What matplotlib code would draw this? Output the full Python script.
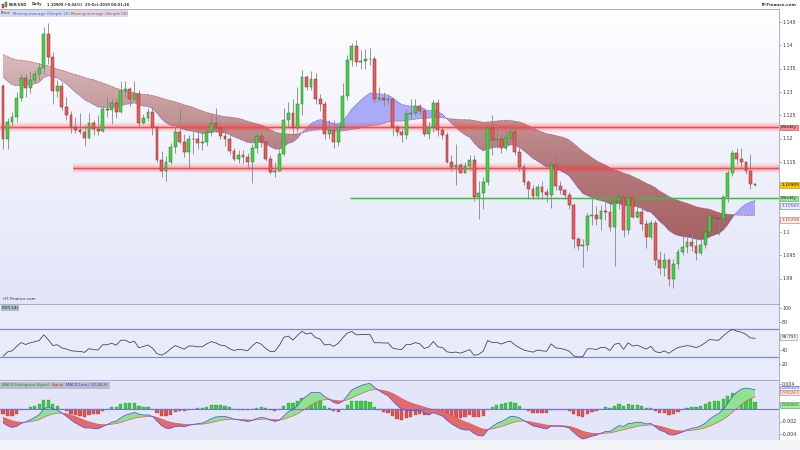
import numpy as np
import pandas as pd
import matplotlib
matplotlib.use('Agg')
import matplotlib.pyplot as plt
from matplotlib.path import Path
from matplotlib.patches import Rectangle
from matplotlib.colors import LinearSegmentedColormap

# ---- data: EUR/USD daily, 07-Mar-2019 .. 25-Oct-2019 ----
# closes before the visible window, only used to warm up the indicators
warmup_close = [
    1.1352, 1.1343, 1.1343, 1.1375, 1.1405, 1.1355, 1.1318, 1.1370, 1.1366, 1.1307,
    1.1347, 1.1359, 1.1381, 1.1449, 1.1372, 1.1400, 1.1353, 1.1431, 1.1441, 1.1466,
    1.1346, 1.1391, 1.1395, 1.1474, 1.1442, 1.1545, 1.1500, 1.1468, 1.1472, 1.1413,
    1.1394, 1.1389, 1.1365, 1.1362, 1.1362, 1.1385, 1.1306, 1.1406, 1.1427, 1.1433,
    1.1478, 1.1445, 1.1455, 1.1434, 1.1406, 1.1375, 1.1342, 1.1326, 1.1275, 1.1327,
    1.1263, 1.1295, 1.1296, 1.1311, 1.1342, 1.1341, 1.1336, 1.1328, 1.1359, 1.1392,
    1.1370, 1.1372, 1.1365, 1.1339, 1.1307, 1.1306,
]
first_open = 1.1312

close = [
    # Mar
    1.1200, 1.1236, 1.1247, 1.1288, 1.1330, 1.1308, 1.1326, 1.1338, 1.1352, 1.1425,
    1.1375, 1.1303, 1.1312, 1.1268, 1.1250, 1.1226, 1.1218,
    # Apr
    1.1215, 1.1202, 1.1234, 1.1220, 1.1217, 1.1263, 1.1262, 1.1276, 1.1258, 1.1303,
    1.1306, 1.1284, 1.1296, 1.1234, 1.1245, 1.1258, 1.1225, 1.1155, 1.1131, 1.1150,
    1.1183, 1.1214,
    # May
    1.1193, 1.1171, 1.1200, 1.1199, 1.1191, 1.1192, 1.1215, 1.1234, 1.1223, 1.1205,
    1.1200, 1.1174, 1.1157, 1.1164, 1.1160, 1.1151, 1.1180, 1.1205, 1.1192, 1.1157,
    1.1129, 1.1130, 1.1168,
    # Jun
    1.1240, 1.1254, 1.1222, 1.1275, 1.1333, 1.1311, 1.1327, 1.1286, 1.1274, 1.1209,
    1.1219, 1.1193, 1.1225, 1.1292, 1.1368, 1.1398, 1.1364, 1.1367, 1.1371, 1.1370,
    # Jul
    1.1285, 1.1287, 1.1283, 1.1284, 1.1226, 1.1214, 1.1207, 1.1252, 1.1254, 1.1271,
    1.1260, 1.1211, 1.1225, 1.1277, 1.1218, 1.1208, 1.1150, 1.1139, 1.1143, 1.1127,
    1.1141, 1.1155, 1.1076,
    # Aug
    1.1083, 1.1108, 1.1222, 1.1198, 1.1199, 1.1181, 1.1201, 1.1214, 1.1172, 1.1139,
    1.1107, 1.1092, 1.1078, 1.1096, 1.1085, 1.1080, 1.1143, 1.1099, 1.1090, 1.1079,
    1.1058, 1.0986,
    # Sep
    1.0969, 1.0972, 1.1035, 1.1036, 1.1027, 1.1045, 1.1042, 1.1011, 1.1064, 1.1074,
    1.1004, 1.1073, 1.1033, 1.1043, 1.1017, 1.0990, 1.1020, 1.0940, 1.0922, 1.0940,
    1.0899,
    # Oct
    1.0931, 1.0958, 1.0968, 1.0978, 1.0971, 1.0955, 1.0972, 1.1000, 1.1034, 1.1030,
    1.1028, 1.1075, 1.1126, 1.1170, 1.1156, 1.1149, 1.1131, 1.1103, 1.1100,
]

high = [
    1.1318, 1.1245, 1.1257, 1.1300, 1.1339, 1.1338, 1.1346, 1.1348, 1.1362, 1.1440,
    1.1448, 1.1385, 1.1326, 1.1322, 1.1290, 1.1260, 1.1246,
    1.1255, 1.1230, 1.1255, 1.1240, 1.1250, 1.1270, 1.1289, 1.1288, 1.1288, 1.1324,
    1.1323, 1.1310, 1.1323, 1.1304, 1.1252, 1.1266, 1.1268, 1.1228, 1.1173, 1.1162,
    1.1190, 1.1224,
    1.1265, 1.1210, 1.1208, 1.1215, 1.1230, 1.1215, 1.1228, 1.1250, 1.1265, 1.1238,
    1.1222, 1.1208, 1.1180, 1.1176, 1.1175, 1.1170, 1.1188, 1.1215, 1.1215, 1.1195,
    1.1165, 1.1150, 1.1175,
    1.1265, 1.1278, 1.1285, 1.1310, 1.1348, 1.1337, 1.1345, 1.1340, 1.1295, 1.1280,
    1.1240, 1.1240, 1.1230, 1.1320, 1.1380, 1.1405, 1.1412, 1.1390, 1.1392, 1.1395,
    1.1378, 1.1310, 1.1300, 1.1292, 1.1290, 1.1230, 1.1220, 1.1263, 1.1285, 1.1285,
    1.1275, 1.1265, 1.1236, 1.1282, 1.1285, 1.1224, 1.1215, 1.1165, 1.1188, 1.1148,
    1.1150, 1.1164, 1.1165,
    1.1110, 1.1117, 1.1225, 1.1250, 1.1230, 1.1210, 1.1220, 1.1230, 1.1230, 1.1180,
    1.1145, 1.1112, 1.1101, 1.1102, 1.1110, 1.1095, 1.1152, 1.1165, 1.1110, 1.1093,
    1.1086, 1.1063,
    1.0990, 1.0984, 1.1040, 1.1085, 1.1055, 1.1058, 1.1064, 1.1070, 1.1087, 1.1110,
    1.1072, 1.1075, 1.1075, 1.1068, 1.1075, 1.1025, 1.1025, 1.1025, 1.0960, 1.0955,
    1.0945,
    1.0942, 1.0964, 1.0998, 1.0990, 1.0998, 1.0985, 1.0985, 1.1012, 1.1047, 1.1040,
    1.1040, 1.1080, 1.1132, 1.1176, 1.1180, 1.1180, 1.1152, 1.1167, 1.1104,
]

low = [
    1.1178, 1.1177, 1.1224, 1.1236, 1.1280, 1.1290, 1.1297, 1.1320, 1.1325, 1.1338,
    1.1360, 1.1275, 1.1290, 1.1262, 1.1240, 1.1212, 1.1212,
    1.1209, 1.1184, 1.1200, 1.1207, 1.1208, 1.1215, 1.1247, 1.1232, 1.1245, 1.1255,
    1.1290, 1.1270, 1.1280, 1.1226, 1.1232, 1.1238, 1.1208, 1.1150, 1.1118, 1.1110,
    1.1145, 1.1170,
    1.1188, 1.1160, 1.1135, 1.1168, 1.1178, 1.1176, 1.1185, 1.1206, 1.1215, 1.1200,
    1.1184, 1.1167, 1.1153, 1.1148, 1.1148, 1.1135, 1.1106, 1.1170, 1.1183, 1.1152,
    1.1125, 1.1118, 1.1135,
    1.1163, 1.1225, 1.1208, 1.1215, 1.1250, 1.1305, 1.1305, 1.1275, 1.1260, 1.1200,
    1.1200, 1.1180, 1.1185, 1.1225, 1.1283, 1.1355, 1.1355, 1.1350, 1.1350, 1.1358,
    1.1277, 1.1280, 1.1270, 1.1275, 1.1208, 1.1205, 1.1193, 1.1200, 1.1243, 1.1250,
    1.1253, 1.1205, 1.1200, 1.1215, 1.1205, 1.1200, 1.1148, 1.1130, 1.1100, 1.1127,
    1.1126, 1.1133, 1.1067,
    1.1027, 1.1050, 1.1100, 1.1165, 1.1180, 1.1170, 1.1175, 1.1195, 1.1165, 1.1130,
    1.1100, 1.1070, 1.1070, 1.1070, 1.1070, 1.1064, 1.1052, 1.1090, 1.1081, 1.1070,
    1.1050, 1.0965,
    1.0961, 1.0926, 1.0960, 1.1015, 1.1014, 1.1005, 1.1025, 1.1002, 1.0927, 1.1050,
    1.0990, 1.0995, 1.1030, 1.1030, 1.1005, 1.0965, 1.0985, 1.0930, 1.0910, 1.0905,
    1.0885,
    1.0879, 1.0920, 1.0950, 1.0955, 1.0960, 1.0940, 1.0950, 1.0965, 1.0995, 1.1020,
    1.0994, 1.1022, 1.1065, 1.1120, 1.1145, 1.1140, 1.1125, 1.1092, 1.1098,
]

weekly_red = [1.1224, 1.1137]
weekly_green = [1.1072]

price_ticks = [1.145, 1.14, 1.135, 1.13, 1.125, 1.12, 1.115, 1.1, 1.095, 1.09]
rsi_ticks = [100, 80, 40, 20]
macd_ticks = [0.004, -0.002, -0.004]

last_price = 1.10909
last_ma20 = 1.10565
last_ma50 = 1.10258
last_rsi = 58.791
last_macd = 0.00329
last_signal = 0.00263
last_hist = 0.00065

tick_pos = [1, 4, 7, 11, 14, 17, 21, 24, 27, 31, 34, 39, 44, 47, 51, 54, 57, 62, 64, 67,
            71, 74, 77, 82, 87, 91, 94, 97, 101, 105, 107, 111, 114, 117, 121, 124, 127,
            131, 134, 137, 141, 144, 148, 151, 154, 157, 161, 164, 167]
tick_lab = ['08', '13', '18', '22', '27', 'Apr', '05', '10', '15', '19', '24',
            'May', '08', '13', '17', '22', '27', 'Jun', '05', '10', '14', '19', '24',
            'Jul', '08', '12', '17', '22', '26', 'Aug', '05', '09', '14', '19', '23', '28',
            'Sep', '06', '11', '16', '20', '25', 'Oct', '04', '09', '14', '18', '23', '28']
months = {'Apr', 'May', 'Jun', 'Jul', 'Aug', 'Sep', 'Oct'}

# ---- indicators ----
allc = pd.Series(warmup_close + close)
nw = len(warmup_close)
ma20 = allc.ewm(span=20, adjust=False).mean().values[nw:]
ma50 = allc.rolling(50).mean().values[nw:]
d = allc.diff()
gain = d.clip(lower=0).ewm(alpha=1 / 14, adjust=False).mean()
loss = (-d.clip(upper=0)).ewm(alpha=1 / 14, adjust=False).mean()
rsi = (100 - 100 / (1 + gain / loss)).values[nw:]
macd_s = allc.ewm(span=12, adjust=False).mean() - allc.ewm(span=26, adjust=False).mean()
sig_s = macd_s.ewm(span=9, adjust=False).mean()
macd = macd_s.values[nw:]
signal = sig_s.values[nw:]
hist = macd - signal

c = np.array(close)
o = np.array([first_open] + close[:-1])
hi = np.maximum(np.array(high), np.maximum(o, c))
lo = np.minimum(np.array(low), np.minimum(o, c))
x = np.arange(len(c))

# ---- layout (pixel based) ----
W, H = 800, 450
XR = 779
def fx(px):
    return px / W
def fy(py):
    return 1 - py / H

xl = (-3 / 4.53, (XR - 3) / 4.53)
pscale = 0.0002143
ylim_main = (1.1 - (304 - 232) * pscale, 1.1 + (232 - 9) * pscale)

fig = plt.figure(figsize=(8, 4.5), dpi=100)
fig.patch.set_facecolor('white')
ax = fig.add_axes([0, fy(304), fx(XR), (304 - 9) / H])
ax_rsi = fig.add_axes([0, fy(380), fx(XR), (380 - 304) / H])
ax_macd = fig.add_axes([0, fy(440), fx(XR), (440 - 380) / H])

for a in (ax, ax_rsi, ax_macd):
    a.set_xlim(*xl)
    for s in ('left', 'bottom'):
        a.spines[s].set_visible(False)
    for s in ('top', 'right'):
        a.spines[s].set_color('#9ea3ba')
        a.spines[s].set_linewidth(0.6)
    a.set_yticks([])
    a.tick_params(axis='x', bottom=False, labelbottom=False)

fig.patches.append(Rectangle((0, 0), 1, fy(440), transform=fig.transFigure,
                             fc='#f4f5f8', ec='none', zorder=0))

# ---- main panel ----
ax.set_ylim(*ylim_main)
grad = np.linspace(0, 1, 256).reshape(-1, 1)
bg = LinearSegmentedColormap.from_list('bg', ['#fefeff', '#e2e5f8'])
ax.imshow(grad, cmap=bg, extent=[xl[0], xl[1], ylim_main[0], ylim_main[1]],
          aspect='auto', origin='upper', zorder=0)

# ribbon between the two moving averages
pc = ax.fill_between(x, ma20, ma50, where=ma50 >= ma20, interpolate=True,
                     facecolor='none', edgecolor='none')
paths = pc.get_paths()
if paths:
    brown = LinearSegmentedColormap.from_list('br', ['#e2caca', '#b07474', '#98403f'])
    im = ax.imshow(grad, cmap=brown, extent=[xl[0], xl[1], 1.09, 1.145],
                   aspect='auto', origin='upper', zorder=1, alpha=0.9)
    im.set_clip_path(Path.make_compound_path(*paths), transform=ax.transData)
ax.fill_between(x, ma20, ma50, where=ma20 > ma50, interpolate=True,
                color='#9d9df6', alpha=0.85, lw=0, zorder=1)
ax.plot(x, ma50, color='#b03535', lw=0.5, ls=(0, (1, 1)), zorder=2)
ax.plot(x, ma20, color='#4040d8', lw=0.5, ls=(0, (1, 1)), zorder=2)

# weekly levels
for lvl, x0 in zip(weekly_red, [xl[0], 15.5]):
    for lw, al in [(7, 0.07), (4.5, 0.12), (2.5, 0.22)]:
        ax.hlines(lvl, x0, xl[1], color='#ff2a2a', lw=lw, alpha=al, zorder=2)
    ax.hlines(lvl, x0, xl[1], color='#ff4848', lw=0.9, zorder=2)
for lvl in weekly_green:
    ax.hlines(lvl, 76.6, xl[1], color='#50c850', lw=2.2, alpha=0.18, zorder=2)
    ax.hlines(lvl, 76.6, xl[1], color='#3cbc3c', lw=0.9, zorder=2)

# candles
up = c >= o
ax.vlines(x, lo, hi, color='#858585', lw=0.6, zorder=3)
bh = np.maximum(np.abs(c - o), 0.00005)
ax.bar(x[up], bh[up], bottom=o[up], width=0.62, color='#46d046',
       edgecolor='#2c7a2c', lw=0.35, zorder=4)
ax.bar(x[~up], bh[~up], bottom=c[~up], width=0.62, color='#e85e5e',
       edgecolor='#8a2c2c', lw=0.35, zorder=4)

ytr = ax.get_yaxis_transform()
for p in price_ticks:
    ax.text(1.004, p, f'{p:g}', transform=ytr, fontsize=3.4, va='center',
            ha='left', color='#333333', clip_on=False)
    ax.plot([1.0, 1.003], [p, p], transform=ytr, color='#777', lw=0.4, clip_on=False)

def side_box(a, y, txt, fc, ec, tc, dy=0):
    a.annotate(txt, xy=(1.003, y), xycoords=a.get_yaxis_transform(),
               xytext=(0, dy), textcoords='offset pixels', fontsize=3.2,
               va='center', ha='left', color=tc, annotation_clip=False,
               bbox=dict(boxstyle='square,pad=0.2', fc=fc, ec=ec, lw=0.4))

for lvl in weekly_red:
    if lvl > 1.12:
        side_box(ax, lvl, 'Weekly', '#f28f8f', '#d04040', '#222222')
side_box(ax, c[-1], f'{last_price:.5f}', '#f6c800', '#b89400', '#111111')
side_box(ax, weekly_green[0], 'Weekly', '#9fe09f', '#40a040', '#222222')
side_box(ax, last_ma20, f'{last_ma20:.5f}', '#eef0ff', '#6a6ae0', '#4040c8')
side_box(ax, last_ma50, f'{last_ma50:.5f}', '#fff0f0', '#d06060', '#c03030')

# ---- RSI panel ----
ax_rsi.set_ylim((378 - 380) / 0.7, (378 - 304) / 0.7)
ax_rsi.set_facecolor('#e8ebfa')
ax_rsi.axhline(70, color='#8585e8', lw=0.9)
ax_rsi.axhline(30, color='#8585e8', lw=0.9)
ax_rsi.plot(x, rsi, color='#3a3a48', lw=0.55)
rtr = ax_rsi.get_yaxis_transform()
for v in rsi_ticks:
    ax_rsi.text(1.004, v, str(v), transform=rtr, fontsize=3.4, va='center',
                ha='left', color='#333333', clip_on=False)
    ax_rsi.plot([1.0, 1.003], [v, v], transform=rtr, color='#777', lw=0.4, clip_on=False)
side_box(ax_rsi, last_rsi, f'{last_rsi:.3f}', '#f4f4f8', '#8c8c9c', '#222222')

# ---- MACD panel ----
ax_macd.set_ylim((409 - 440) / 6250, (409 - 380) / 6250)
ax_macd.set_facecolor('#e2e6f8')
ax_macd.bar(x, hist, width=0.72, color=np.where(hist >= 0, '#3ccc3c', '#e05252'),
            edgecolor=np.where(hist >= 0, '#2a8a2a', '#a03030'), lw=0.2, zorder=1)
ax_macd.fill_between(x, macd, signal, where=macd >= signal, interpolate=True,
                     color='#8fe28f', lw=0, zorder=2)
ax_macd.fill_between(x, macd, signal, where=macd < signal, interpolate=True,
                     color='#e26a6a', lw=0, zorder=2)
ax_macd.plot(x, signal, color='#e05a5a', lw=0.5, zorder=3)
ax_macd.plot(x, macd, color='#4a4ae0', lw=0.5, zorder=3)
ax_macd.axhline(0, color='#7272ee', lw=0.8, zorder=2)
mtr = ax_macd.get_yaxis_transform()
for v in macd_ticks:
    ax_macd.text(1.004, v, f'{v:g}', transform=mtr, fontsize=3.4, va='center',
                 ha='left', color='#333333', clip_on=False)
    ax_macd.plot([1.0, 1.003], [v, v], transform=mtr, color='#777', lw=0.4, clip_on=False)
side_box(ax_macd, last_macd, f'{last_macd:.5f}', '#eef0ff', '#6a6ae0', '#4040c8')
side_box(ax_macd, last_signal, f'{last_signal:.5f}', '#fff0f0', '#d06060', '#c03030')
side_box(ax_macd, last_hist, f'{last_hist:.5f}', '#a8e8a8', '#40a040', '#226622')

# x axis
ax_macd.tick_params(axis='x', bottom=True, labelbottom=True, length=2, width=0.4,
                    pad=1.2, color='#666666', labelsize=3.2, labelcolor='#333333')
ax_macd.set_xticks(tick_pos)
ax_macd.set_xticklabels(tick_lab)
for t in ax_macd.get_xticklabels():
    if t.get_text() in months:
        t.set_fontweight('bold')

# ---- header texts ----
fig.patches.append(Rectangle((fx(2), fy(8)), fx(2), 4 / H, transform=fig.transFigure,
                             fc='#e05050', ec='#802020', lw=0.3))
fig.patches.append(Rectangle((fx(5), fy(7)), fx(2), 5 / H, transform=fig.transFigure,
                             fc='#40c040', ec='#206020', lw=0.3))
hdr = dict(fontsize=2.6, va='center', ha='left', color='#333333', fontweight='bold')
fig.text(fx(9), fy(4.5), 'EUR/USD', **hdr)
fig.text(fx(32), fy(4.5), 'Daily', **hdr)
fig.text(fx(47), fy(4.5), '1.10909 (-0.04%)', **hdr)
fig.text(fx(85), fy(4.5), '25-Oct-2019 00:01:16', **hdr)
fig.text(fx(797), fy(4.5), 'IT-Finance.com', fontsize=3.0, va='center', ha='right',
         color='#333333', fontweight='bold')

fig.patches.append(Rectangle((0, fy(17)), fx(128), 7 / H, transform=fig.transFigure,
                             fc='#d6dae8', ec='none', zorder=5))
fig.text(fx(1), fy(13.5), 'Price', fontsize=2.9, va='center', color='#333333', zorder=6)
fig.text(fx(13), fy(13.5), 'Moving average (Simple 20)', fontsize=2.9, va='center',
         color='#5a5ae6', zorder=6)
fig.text(fx(71), fy(13.5), 'Moving average (Simple 50)', fontsize=2.9, va='center',
         color='#c84040', zorder=6)

fig.text(fx(1), fy(299.5), '\u00a9IT-Finance.com', fontsize=3.0, va='center',
         color='#333333')
fig.text(fx(2), fy(308), 'RSI( 14)', fontsize=3.0, va='center', color='#222222',
         bbox=dict(boxstyle='square,pad=0.2', fc='#a9bfca', ec='none'))

fig.patches.append(Rectangle((0, fy(388.5)), fx(110), 6.5 / H, transform=fig.transFigure,
                             fc='#b8bdca', ec='none', zorder=5))
fig.text(fx(2), fy(385.3), 'MACD Histogram Signal', fontsize=2.8, va='center',
         color='#2e8e2e', zorder=6)
fig.text(fx(52), fy(385.3), 'Signal', fontsize=2.8, va='center', color='#c83a3a', zorder=6)
fig.text(fx(66), fy(385.3), 'MACD Line ( 12,26,9)', fontsize=2.8, va='center',
         color='#3a3ad0', zorder=6)

fig.savefig('out.png', dpi=100)
